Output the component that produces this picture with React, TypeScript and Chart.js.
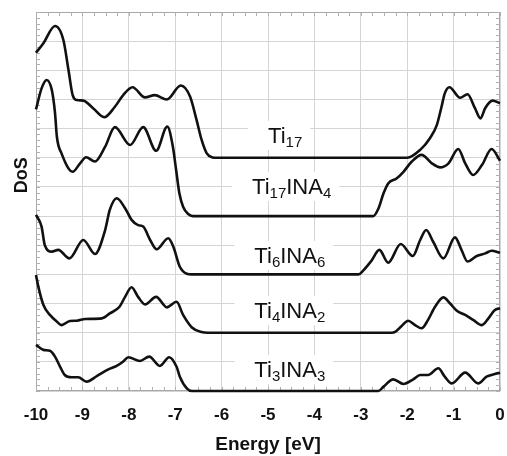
import React, { useEffect, useRef } from "react";
import { Chart, registerables } from "chart.js";

Chart.register(...registerables);

const FONT = "'Liberation Sans', Arial, Helvetica, sans-serif";

// Energy axis ticks
const energyTicks = [-10, -9, -8, -7, -6, -5, -4, -3, -2, -1, 0];

// Ti17 (offset baseline 8)
const ti17E = [-10, -9.84, -9.59, -9.41, -9.3, -9.21, -9.12, -8.98, -8.77, -8.53, -8.3, -8.12, -7.92, -7.65, -7.44, -7.18, -6.88, -6.68, -6.54, -6.43, -6.32, -6.21, -6.1, -2.0, -1.72, -1.51, -1.36, -1.26, -1.19, -1.09, -0.86, -0.7, -0.54, -0.42, -0.32, -0.16, 0];
const ti17D = [11.6, 11.93, 12.52, 12.04, 11.01, 10.15, 9.98, 9.96, 9.7, 9.39, 9.75, 10.15, 10.42, 10.07, 10.15, 10.0, 10.48, 10.1, 9.3, 8.61, 8.15, 8.02, 8.0, 8.0, 8.27, 8.67, 9.13, 9.75, 10.21, 10.42, 10.06, 10.18, 9.7, 9.35, 9.7, 9.96, 9.87];

// Ti17INA4 (offset baseline 6)
const ti17ina4E = [-10, -9.88, -9.77, -9.66, -9.59, -9.55, -9.45, -9.21, -9.05, -8.92, -8.73, -8.51, -8.3, -7.97, -7.69, -7.41, -7.17, -7.05, -6.98, -6.91, -6.83, -6.72, -6.62, -2.73, -2.62, -2.51, -2.41, -2.23, -2.08, -1.9, -1.69, -1.47, -1.29, -1.11, -0.9, -0.75, -0.58, -0.39, -0.18, 0];
const ti17ina4D = [9.66, 10.38, 10.67, 10.33, 9.53, 8.72, 8.15, 7.52, 7.81, 8.02, 7.87, 8.38, 9.05, 8.44, 9.05, 8.24, 9.07, 8.38, 7.58, 6.78, 6.32, 6.07, 6.0, 6.0, 6.26, 6.78, 7.12, 7.29, 7.52, 7.87, 8.1, 7.81, 7.67, 7.81, 8.3, 7.81, 7.41, 7.75, 8.3, 7.9];

// Ti6INA6 (offset baseline 4)
const ti6ina6E = [-10, -9.88, -9.81, -9.66, -9.52, -9.28, -8.98, -8.73, -8.51, -8.41, -8.26, -8.08, -7.94, -7.8, -7.69, -7.54, -7.4, -7.15, -7.04, -6.9, -6.75, -6.65, -3.05, -2.95, -2.77, -2.6, -2.41, -2.14, -1.88, -1.72, -1.59, -1.44, -1.22, -0.97, -0.83, -0.7, -0.5, -0.32, -0.18, 0];
const ti6ina6D = [6.04, 5.64, 5.0, 4.78, 4.84, 4.55, 5.18, 4.7, 5.52, 6.21, 6.61, 6.27, 5.87, 5.69, 5.64, 5.18, 4.86, 5.24, 4.95, 4.26, 4.02, 4.0, 4.0, 4.13, 4.47, 4.84, 4.4, 5.04, 4.63, 5.18, 5.52, 5.12, 4.55, 5.27, 4.84, 4.44, 4.63, 4.72, 4.81, 4.74];

// Ti4INA2 (offset baseline 2)
const ti4ina2E = [-10, -9.95, -9.84, -9.7, -9.55, -9.45, -9.27, -9.12, -8.94, -8.58, -8.41, -8.2, -8.08, -7.94, -7.8, -7.65, -7.41, -7.18, -6.97, -6.83, -6.64, -6.43, -6.3, -2.33, -2.26, -2.12, -1.98, -1.83, -1.69, -1.55, -1.4, -1.22, -1.08, -0.93, -0.75, -0.58, -0.39, -0.25, -0.11, 0];
const ti4ina2D = [3.98, 3.58, 2.95, 2.61, 2.38, 2.26, 2.4, 2.41, 2.47, 2.49, 2.66, 2.89, 3.23, 3.56, 3.23, 2.97, 3.23, 2.87, 3.06, 2.61, 2.18, 2.02, 2.0, 2.0, 2.03, 2.23, 2.41, 2.26, 2.15, 2.44, 2.89, 3.21, 3.01, 2.75, 2.61, 2.44, 2.26, 2.49, 2.78, 2.84];

// Ti3INA3 (offset baseline 0)
const ti3ina3E = [-10, -9.84, -9.7, -9.59, -9.48, -9.38, -9.23, -9.09, -8.91, -8.69, -8.44, -8.26, -8.12, -8.01, -7.76, -7.56, -7.33, -7.13, -6.97, -6.9, -6.75, -6.64, -2.62, -2.51, -2.3, -2.08, -1.87, -1.72, -1.55, -1.33, -1.19, -1.04, -0.75, -0.47, -0.29, -0.11, 0];
const ti3ina3D = [1.58, 1.41, 1.38, 1.18, 0.83, 0.55, 0.47, 0.47, 0.32, 0.51, 0.74, 0.86, 1.01, 1.16, 1.03, 1.18, 0.86, 1.16, 0.83, 0.49, 0.09, 0.0, 0.0, 0.15, 0.4, 0.24, 0.4, 0.55, 0.55, 0.78, 0.49, 0.26, 0.63, 0.26, 0.49, 0.58, 0.63];

const seriesNames = ["Ti17", "Ti17INA4", "Ti6INA6", "Ti4INA2", "Ti3INA3"];
// label text parts: [text, isSubscript]
const labelParts: [string, boolean][][] = [
  [["Ti", false], ["17", true]],
  [["Ti", false], ["17", true], ["INA", false], ["4", true]],
  [["Ti", false], ["6", true], ["INA", false], ["6", true]],
  [["Ti", false], ["4", true], ["INA", false], ["2", true]],
  [["Ti", false], ["3", true], ["INA", false], ["3", true]],
];

const yTitle = "DoS";

const seriesE = [ti17E, ti17ina4E, ti6ina6E, ti4ina2E, ti3ina3E];
const seriesD = [ti17D, ti17ina4D, ti6ina6D, ti4ina2D, ti3ina3D];

const labelPlugin = {
  id: "frameAndLabels",
  beforeDatasetsDraw(chart: any) {
    const { ctx, chartArea: a, scales } = chart;
    const xs = scales.x;
    const ys = scales.y;
    ctx.save();
    // frame
    ctx.strokeStyle = "#a8a8a8";
    ctx.lineWidth = 1;
    ctx.strokeRect(a.left + 0.5, a.top + 0.5, a.right - a.left - 1, a.bottom - a.top - 1);
    // minor ticks
    ctx.strokeStyle = "#b0b0b0";
    ctx.beginPath();
    for (let v = -10; v <= 0.001; v += 0.25) {
      const px = Math.round(xs.getPixelForValue(v)) + 0.5;
      ctx.moveTo(px, a.bottom);
      ctx.lineTo(px, a.bottom - 4);
      ctx.moveTo(px, a.top);
      ctx.lineTo(px, a.top + 4);
    }
    for (let v = 0; v <= 13.001; v += 0.2) {
      const py = Math.round(ys.getPixelForValue(v)) + 0.5;
      ctx.moveTo(a.left, py);
      ctx.lineTo(a.left + 4, py);
      ctx.moveTo(a.right, py);
      ctx.lineTo(a.right - 4, py);
    }
    ctx.stroke();

    // y axis title (placed higher than the axis centre, as in the reference)
    ctx.save();
    ctx.translate(22, ys.getPixelForValue(7.4));
    ctx.rotate(-Math.PI / 2);
    ctx.font = `bold 18px ${FONT}`;
    ctx.fillStyle = "#111111";
    ctx.textAlign = "center";
    ctx.textBaseline = "middle";
    ctx.fillText(yTitle, 0, 0);
    ctx.restore();

    // labels
    const pos = chart.options.plugins.frameAndLabels.positions;
    const mainFont = `22px ${FONT}`;
    const subFont = `15px ${FONT}`;
    labelParts.forEach((parts, i) => {
      const cx = xs.getPixelForValue(pos[i][0]);
      const by = ys.getPixelForValue(pos[i][1]);
      let w = 0;
      parts.forEach(([t, sub]) => {
        ctx.font = sub ? subFont : mainFont;
        w += ctx.measureText(t).width;
      });
      let x = cx - w / 2;
      ctx.fillStyle = "#ffffff";
      ctx.fillRect(x - 20, by - 22, w + 28, 29);
      ctx.fillStyle = "#111111";
      ctx.textBaseline = "alphabetic";
      ctx.textAlign = "left";
      parts.forEach(([t, sub]) => {
        ctx.font = sub ? subFont : mainFont;
        ctx.fillText(t, x, sub ? by + 4 : by);
        x += ctx.measureText(t).width;
      });
    });
    ctx.restore();
  },
};

export default function App() {
  const ref = useRef<HTMLCanvasElement | null>(null);

  useEffect(() => {
    if (!ref.current) return;
    const datasets = seriesNames.map((name, i) => ({
      label: name,
      data: seriesE[i].map((e, j) => ({ x: e, y: seriesD[i][j] })),
      borderColor: "#111111",
      borderWidth: 2.6,
      pointRadius: 0,
      fill: false,
      cubicInterpolationMode: "monotone" as const,
      clip: false as const,
    }));
    const chart = new Chart(ref.current, {
      type: "line",
      data: { datasets },
      plugins: [labelPlugin],
      options: {
        animation: false,
        responsive: false,
        maintainAspectRatio: false,
        layout: { padding: { top: 12, right: 7, left: 0, bottom: 0 } },
        plugins: {
          legend: { display: false },
          tooltip: { enabled: false },
          frameAndLabels: {
            positions: [
              [-4.63, 8.51],
              [-4.49, 6.76],
              [-4.53, 4.39],
              [-4.53, 2.5],
              [-4.53, 0.48],
            ],
          },
        } as any,
        scales: {
          x: {
            type: "linear",
            min: -10,
            max: 0,
            afterBuildTicks: (s: any) => {
              s.ticks = energyTicks.map((v) => ({ value: v }));
            },
            afterFit: (s: any) => {
              s.height = 65;
              s.paddingLeft = 0;
              s.paddingRight = 0;
            },
            grid: { color: "#d4d4d4", lineWidth: 1, drawTicks: false },
            border: { display: false },
            ticks: {
              padding: 14,
              color: "#111111",
              font: { family: FONT, size: 17, weight: "bold" },
              callback: (v: any) => String(v),
              maxRotation: 0,
            },
            title: {
              display: true,
              text: "Energy [eV]",
              color: "#111111",
              font: { family: FONT, size: 19, weight: "bold" },
              padding: { top: 0, bottom: 0 },
            },
          },
          y: {
            type: "linear",
            min: 0,
            max: 13,
            afterFit: (s: any) => {
              s.width = 36;
              s.paddingTop = 0;
              s.paddingBottom = 0;
            },
            ticks: { stepSize: 1, display: false },
            grid: { color: "#d4d4d4", lineWidth: 1, drawTicks: false },
            border: { display: false },
            title: { display: false },
          },
        },
      },
    });
    return () => chart.destroy();
  }, []);

  return (
    <div style={{ position: "fixed", left: 0, top: 0, width: 507, height: 456, background: "#fff" }}>
      <canvas ref={ref} width={507} height={456} style={{ width: 507, height: 456, display: "block" }} />
    </div>
  );
}
